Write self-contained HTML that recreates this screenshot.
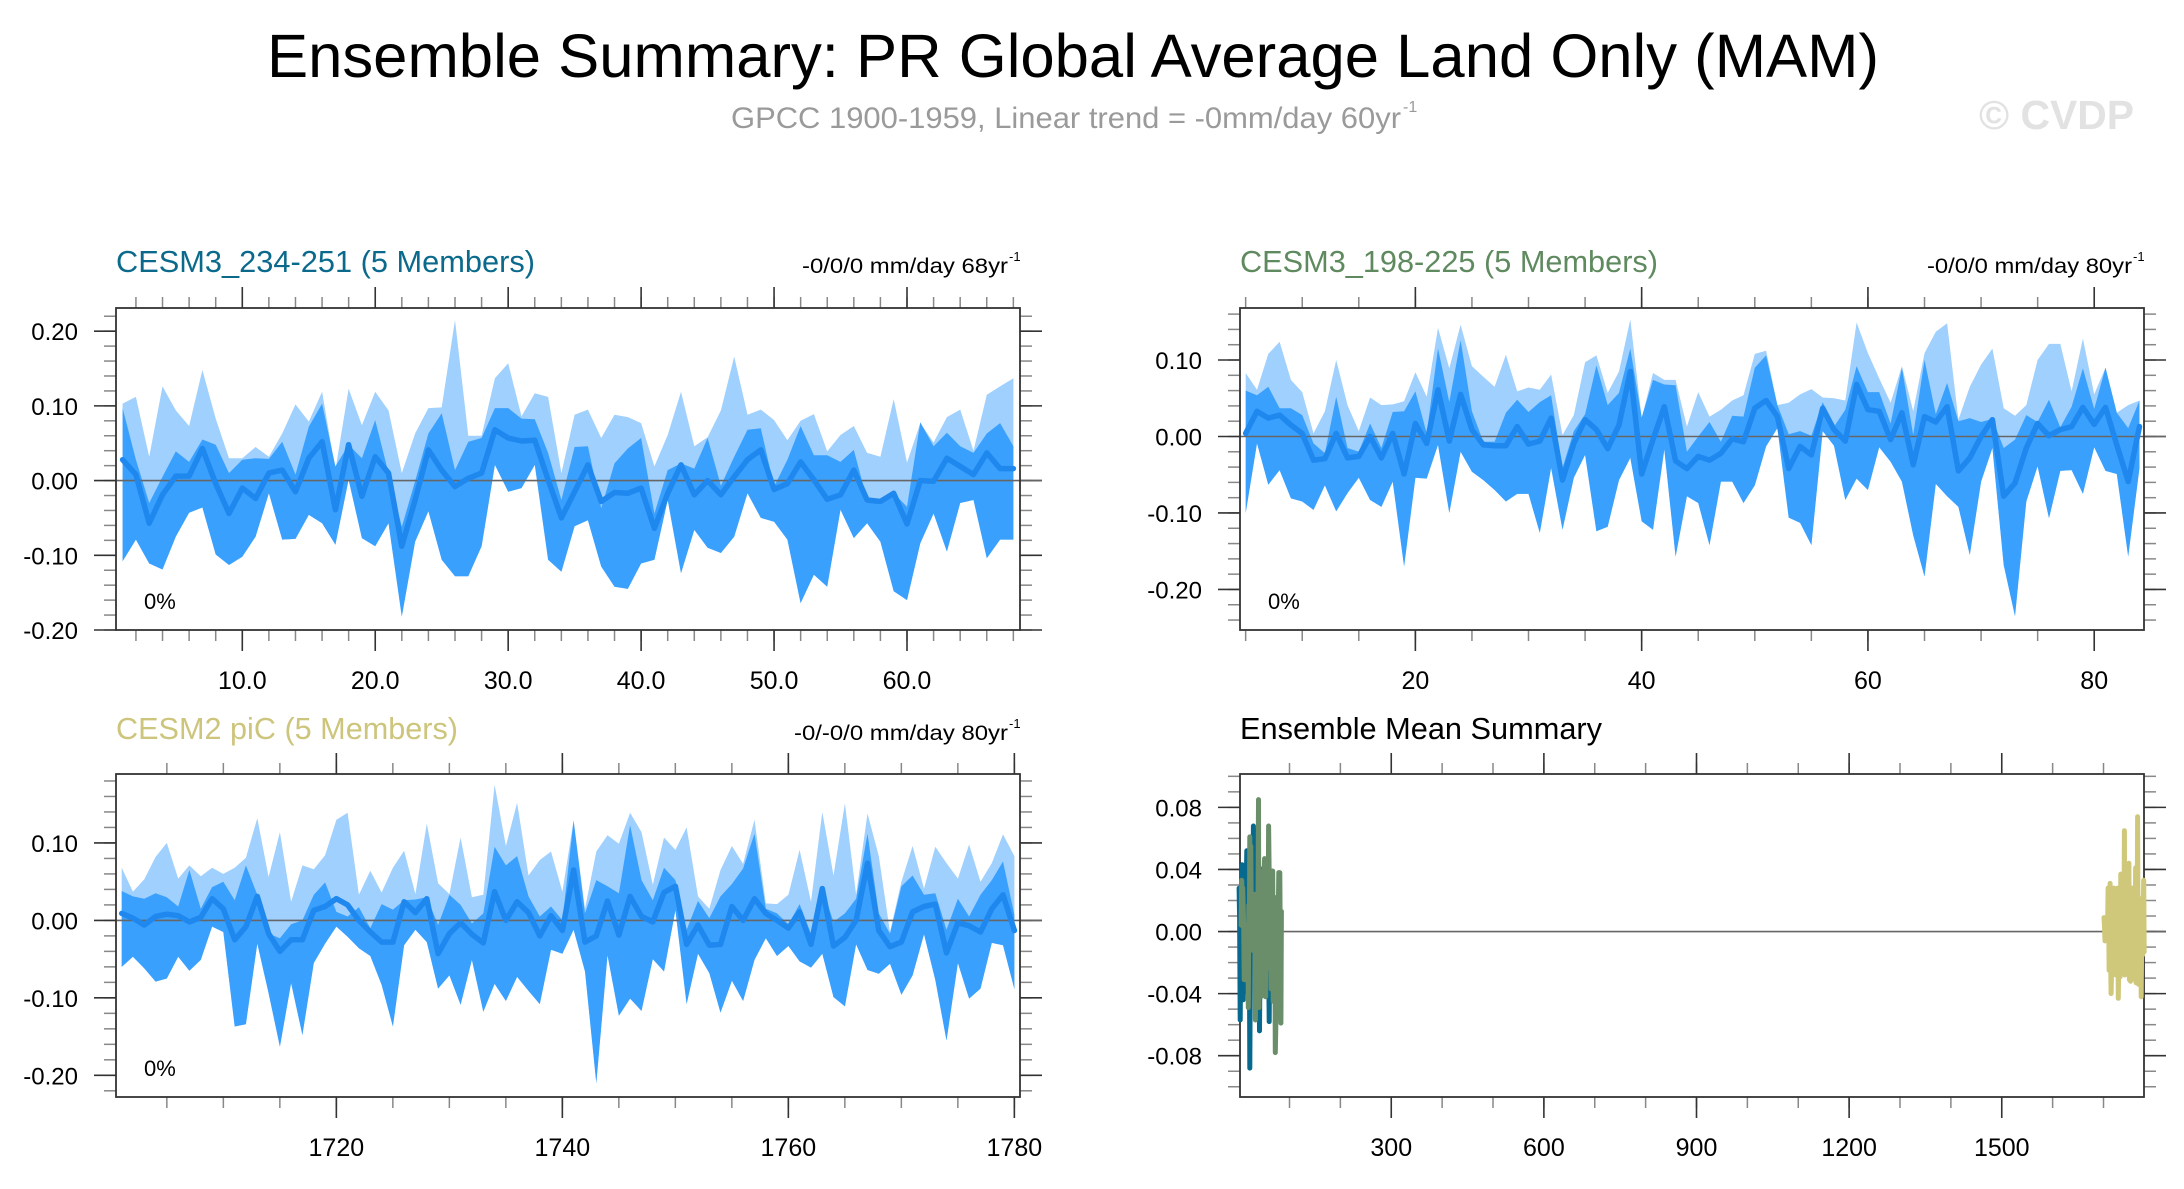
<!DOCTYPE html>
<html><head><meta charset="utf-8"><title>Ensemble Summary</title>
<style>
html,body{margin:0;padding:0;background:#fff;}
svg{display:block;font-family:"Liberation Sans",Arial,sans-serif;}
</style></head>
<body>
<svg id="chart" width="2184" height="1189" viewBox="0 0 2184 1189" xmlns="http://www.w3.org/2000/svg">
<rect x="0" y="0" width="2184" height="1189" fill="#ffffff"/>
<text x="1073" y="77" font-size="61" text-anchor="middle" textLength="1612" lengthAdjust="spacingAndGlyphs" fill="#000">Ensemble Summary: PR Global Average Land Only (MAM)</text>
<text x="731" y="128" font-size="30" fill="#9a9a9a" textLength="670" lengthAdjust="spacingAndGlyphs">GPCC 1900-1959, Linear trend = -0mm/day 60yr</text>
<text x="1403" y="112" font-size="16" fill="#9a9a9a">-1</text>
<text x="1979" y="129" font-size="41" font-weight="bold" fill="#e2e2e2" textLength="155" lengthAdjust="spacingAndGlyphs">© CVDP</text>
<g id="panels"></g>
</svg>
<script>
// ---------- Panel 1: CESM3_234-251 (years 1..68) ----------
const p1Years = Array.from({length:68},(_,i)=>i+1);
const p1Mean = [0.028,0.008,-0.057,-0.019,0.006,0.006,0.043,-0.004,-0.044,-0.010,-0.024,0.010,0.014,-0.015,0.030,0.052,-0.039,0.048,-0.021,0.032,0.010,-0.088,-0.026,0.041,0.014,-0.008,0.003,0.010,0.068,0.057,0.053,0.054,0.001,-0.050,-0.015,0.021,-0.028,-0.016,-0.017,-0.010,-0.064,-0.017,0.021,-0.019,0.000,-0.019,0.005,0.028,0.041,-0.012,-0.004,0.025,0.001,-0.025,-0.019,0.014,-0.026,-0.028,-0.017,-0.058,0.000,-0.001,0.030,0.019,0.008,0.037,0.016,0.016];
const p1Hi = [0.103,0.112,0.032,0.126,0.094,0.073,0.148,0.083,0.030,0.030,0.045,0.032,0.063,0.102,0.079,0.119,0.014,0.123,0.074,0.119,0.094,0.010,0.063,0.097,0.098,0.215,0.060,0.060,0.137,0.157,0.086,0.117,0.112,0.010,0.088,0.095,0.057,0.088,0.085,0.077,0.019,0.061,0.119,0.046,0.058,0.094,0.166,0.088,0.095,0.081,0.054,0.080,0.089,0.039,0.061,0.073,0.037,0.032,0.109,0.024,0.077,0.051,0.085,0.095,0.040,0.115,0.126,0.137];
const p1DHi = [0.097,0.028,-0.030,0.005,0.039,0.025,0.055,0.048,0.010,0.028,0.030,0.029,0.052,0.008,0.072,0.103,0.019,0.048,0.030,0.081,0.010,-0.062,-0.001,0.063,0.090,0.014,0.052,0.057,0.097,0.097,0.083,0.082,0.037,-0.026,0.045,0.046,-0.037,0.023,0.043,0.057,-0.044,0.014,0.023,0.016,0.057,-0.007,0.032,0.068,0.070,-0.008,0.028,0.073,0.034,0.034,0.025,0.041,-0.026,-0.028,-0.017,-0.035,0.078,0.046,0.064,0.046,0.037,0.063,0.077,0.046];
const p1Lo = [-0.108,-0.079,-0.111,-0.119,-0.075,-0.043,-0.036,-0.099,-0.113,-0.102,-0.075,-0.017,-0.079,-0.078,-0.046,-0.057,-0.086,0.001,-0.077,-0.088,-0.057,-0.182,-0.082,-0.041,-0.106,-0.128,-0.128,-0.088,0.021,-0.015,-0.010,0.021,-0.106,-0.122,-0.061,-0.053,-0.115,-0.142,-0.145,-0.111,-0.106,-0.026,-0.124,-0.066,-0.090,-0.097,-0.075,-0.017,-0.050,-0.055,-0.079,-0.164,-0.126,-0.142,-0.039,-0.077,-0.057,-0.082,-0.148,-0.160,-0.084,-0.044,-0.095,-0.030,-0.026,-0.104,-0.079,-0.079];

// ---------- Panel 2: CESM3_198-225 (years 5..84) ----------
const p2Years = Array.from({length:80},(_,i)=>i+5);
const p2Mean = [0.004,0.033,0.024,0.028,0.015,0.004,-0.031,-0.029,0.004,-0.028,-0.026,0.000,-0.028,0.004,-0.049,0.017,-0.009,0.061,-0.006,0.055,0.009,-0.011,-0.012,-0.012,0.013,-0.010,-0.006,0.024,-0.057,-0.009,0.022,0.009,-0.016,0.015,0.085,-0.049,-0.004,0.039,-0.032,-0.042,-0.026,-0.031,-0.022,-0.003,-0.007,0.037,0.047,0.026,-0.042,-0.013,-0.024,0.037,0.009,-0.006,0.068,0.035,0.033,-0.004,0.031,-0.037,0.026,0.019,0.039,-0.045,-0.028,0.000,0.022,-0.078,-0.061,-0.015,0.017,0.001,0.009,0.013,0.038,0.016,0.038,-0.011,-0.059,0.013];
const p2Hi = [0.083,0.061,0.108,0.124,0.074,0.058,0.004,0.033,0.100,0.041,0.007,0.051,0.041,0.042,0.046,0.084,0.052,0.142,0.089,0.146,0.092,0.078,0.065,0.107,0.059,0.064,0.061,0.081,0.002,0.028,0.097,0.106,0.057,0.085,0.153,0.024,0.083,0.074,0.074,0.013,0.058,0.026,0.035,0.047,0.054,0.108,0.112,0.041,0.044,0.055,0.062,0.051,0.050,0.047,0.149,0.109,0.076,0.044,0.092,0.033,0.109,0.137,0.148,0.022,0.065,0.094,0.115,0.037,0.027,0.041,0.100,0.121,0.121,0.059,0.128,0.055,0.090,0.031,0.041,0.047];
const p2DHi = [0.060,0.054,0.065,0.037,0.037,0.028,-0.009,-0.022,0.052,-0.015,-0.020,0.017,-0.015,0.032,0.033,0.059,0.004,0.115,0.045,0.126,0.033,-0.007,-0.007,0.031,0.048,0.032,0.045,0.054,-0.041,0.007,0.029,0.093,0.041,0.057,0.115,0.025,0.074,0.068,0.067,-0.020,0.000,0.019,-0.007,0.027,0.026,0.090,0.106,0.041,0.003,0.007,0.001,0.045,0.013,0.035,0.092,0.058,0.058,0.017,0.090,0.002,0.100,0.029,0.070,0.020,0.024,0.019,0.023,-0.015,-0.004,0.028,0.019,0.048,0.012,0.039,0.089,0.036,0.090,0.031,0.011,0.047];
const p2Lo = [-0.100,-0.009,-0.063,-0.044,-0.081,-0.085,-0.096,-0.064,-0.098,-0.074,-0.054,-0.083,-0.092,-0.059,-0.170,-0.054,-0.055,-0.011,-0.100,-0.020,-0.046,-0.057,-0.070,-0.085,-0.075,-0.075,-0.126,-0.041,-0.122,-0.054,-0.024,-0.124,-0.118,-0.057,-0.028,-0.111,-0.122,-0.017,-0.157,-0.078,-0.087,-0.142,-0.059,-0.059,-0.087,-0.064,-0.013,0.011,-0.106,-0.113,-0.142,0.007,-0.012,-0.083,-0.055,-0.070,-0.014,-0.033,-0.059,-0.129,-0.183,-0.062,-0.078,-0.092,-0.155,-0.059,-0.015,-0.168,-0.235,-0.085,-0.039,-0.107,-0.045,-0.044,-0.075,-0.014,-0.045,-0.049,-0.157,-0.041];

// ---------- Panel 3: CESM2 piC (years 1701..1780) ----------
const p3Years = Array.from({length:80},(_,i)=>i+1701);
const p3Mean = [0.009,0.003,-0.006,0.005,0.008,0.006,-0.002,0.004,0.028,0.015,-0.025,-0.008,0.031,-0.017,-0.040,-0.025,-0.025,0.013,0.018,0.028,0.020,0.000,-0.015,-0.028,-0.028,0.024,0.010,0.028,-0.043,-0.017,-0.003,-0.018,-0.029,0.037,0.000,0.024,0.010,-0.020,0.006,-0.013,0.065,-0.028,-0.020,0.025,-0.019,0.031,0.005,-0.002,0.036,0.044,-0.031,-0.006,-0.032,-0.031,0.018,0.000,0.028,0.009,0.000,-0.010,0.011,-0.031,0.041,-0.033,-0.022,0.000,0.074,-0.013,-0.034,-0.028,0.011,0.018,0.021,-0.042,-0.003,-0.007,-0.015,0.015,0.033,-0.013];
const p3Hi = [0.068,0.037,0.053,0.082,0.100,0.054,0.071,0.057,0.068,0.060,0.068,0.081,0.132,0.056,0.114,0.024,0.071,0.066,0.084,0.130,0.139,0.033,0.064,0.036,0.068,0.090,0.034,0.125,0.048,0.034,0.107,0.030,0.033,0.175,0.096,0.152,0.058,0.078,0.089,0.037,0.129,0.015,0.089,0.110,0.099,0.139,0.114,0.046,0.107,0.091,0.120,0.031,0.015,0.065,0.096,0.073,0.130,0.022,0.021,0.033,0.091,0.024,0.140,0.058,0.151,0.033,0.138,0.083,-0.015,0.050,0.096,0.041,0.095,0.074,0.054,0.098,0.050,0.074,0.111,0.083];
const p3DHi = [0.038,0.031,0.028,0.035,0.030,0.018,0.065,0.015,0.043,0.050,0.026,0.071,0.033,-0.017,-0.023,-0.005,0.000,0.033,0.049,0.011,0.005,0.017,-0.010,0.021,0.014,0.026,0.027,0.030,-0.006,0.033,0.020,-0.004,0.009,0.095,0.071,0.083,0.031,0.005,0.018,0.000,0.129,0.009,0.052,0.044,0.035,0.123,0.052,0.026,0.068,0.052,-0.012,0.025,0.003,0.031,0.047,0.067,0.112,0.015,0.009,-0.005,0.021,-0.017,0.041,-0.002,0.009,0.028,0.112,0.009,-0.017,0.044,0.058,0.033,0.035,-0.012,0.028,0.005,0.033,0.052,0.076,0.007];
const p3Lo = [-0.060,-0.047,-0.062,-0.079,-0.075,-0.047,-0.065,-0.051,-0.008,-0.015,-0.137,-0.134,-0.030,-0.094,-0.163,-0.081,-0.148,-0.055,-0.030,-0.008,-0.021,-0.036,-0.046,-0.083,-0.137,-0.032,-0.012,-0.028,-0.088,-0.071,-0.109,-0.051,-0.118,-0.082,-0.104,-0.073,-0.091,-0.108,-0.038,-0.043,-0.012,-0.066,-0.210,-0.045,-0.123,-0.101,-0.117,-0.050,-0.066,0.013,-0.108,-0.043,-0.068,-0.119,-0.078,-0.104,-0.051,-0.023,-0.046,-0.033,-0.053,-0.061,-0.043,-0.099,-0.111,-0.031,-0.064,-0.069,-0.056,-0.096,-0.071,-0.018,-0.077,-0.155,-0.055,-0.101,-0.088,-0.029,-0.032,-0.089];

// ---------- tick label arrays ----------
const p1XTicks = [10,20,30,40,50,60];
const p1XLabels = ["10.0","20.0","30.0","40.0","50.0","60.0"];
const p1YTicks = [-0.2,-0.1,0,0.1,0.2];
const p2XTicks = [20,40,60,80];
const p2YTicks = [-0.2,-0.1,0,0.1];
const p3XTicks = [1720,1740,1760,1780];
const p3YTicks = [-0.2,-0.1,0,0.1];
const p4XTicks = [300,600,900,1200,1500];
const p4YTicks = [-0.08,-0.04,0,0.04,0.08];

const NS = "http://www.w3.org/2000/svg";
const root = document.getElementById('panels');
function mk(tag, attrs, parent){
  const e = document.createElementNS(NS, tag);
  for (const k in attrs) e.setAttribute(k, attrs[k]);
  (parent||root).appendChild(e);
  return e;
}
function scales(cfg){
  const sx = v => cfg.x0 + (v - cfg.xmin) / (cfg.xmax - cfg.xmin) * (cfg.x1 - cfg.x0);
  const sy = v => cfg.y1 - (v - cfg.ymin) / (cfg.ymax - cfg.ymin) * (cfg.y1 - cfg.y0);
  return {sx, sy};
}
function frame(cfg, g){
  const {sx, sy} = scales(cfg);
  for (let v = cfg.xMinorStart; v <= cfg.xmax + 1e-9; v += cfg.xMinor){
    const X = sx(v);
    const t1 = mk('line',{x1:X,x2:X,y1:cfg.y0,y2:cfg.y0-11,stroke:'#888','stroke-width':1.5},g);
    
    
    const t2 = mk('line',{x1:X,x2:X,y1:cfg.y1,y2:cfg.y1+11,stroke:'#888','stroke-width':1.5},g);
    
    
  }
  for (let v = cfg.yMinorStart; v <= cfg.ymax + 1e-9; v += cfg.yMinor){
    const Y = sy(v);
    const t1 = mk('line',{x1:cfg.x0,x2:cfg.x0-12,y1:Y,y2:Y,stroke:'#888','stroke-width':1.5},g);
    
    
    const t2 = mk('line',{x1:cfg.x1,x2:cfg.x1+12,y1:Y,y2:Y,stroke:'#888','stroke-width':1.5},g);
    
    
  }
  cfg.xTicks.forEach((v,i)=>{
    const X = sx(v);
    const a = mk('line',{x1:X,x2:X,y1:cfg.y0,y2:cfg.y0-21,stroke:'#333','stroke-width':1.6},g);
    
    
    const b = mk('line',{x1:X,x2:X,y1:cfg.y1,y2:cfg.y1+21,stroke:'#333','stroke-width':1.6},g);
    
    
    const t = mk('text',{x:X,y:cfg.xLabelY,'font-size':25,'text-anchor':'middle',fill:'#000'},g);
    t.textContent = cfg.xLabels[i];
    
    
  });
  cfg.yTicks.forEach((v,i)=>{
    const Y = sy(v);
    const a = mk('line',{x1:cfg.x0,x2:cfg.x0-22,y1:Y,y2:Y,stroke:'#333','stroke-width':1.6},g);
    
    
    const b = mk('line',{x1:cfg.x1,x2:cfg.x1+22,y1:Y,y2:Y,stroke:'#333','stroke-width':1.6},g);
    
    
    const t = mk('text',{x:cfg.x0-38,y:Y+9,'font-size':24,'text-anchor':'end',fill:'#000'},g);
    t.textContent = cfg.yLabels[i];
    
    
  });
  const z = mk('line',{x1:cfg.x0,x2:cfg.x1+22,y1:sy(0),y2:sy(0),stroke:'#666','stroke-width':1.6},g);
  
  
  const box = mk('rect',{x:cfg.x0,y:cfg.y0,width:cfg.x1-cfg.x0,height:cfg.y1-cfg.y0,fill:'none',stroke:'#333','stroke-width':1.8},g);
  
  
}
function bandPath(xs, top, bot, sx, sy){
  let d = '';
  xs.forEach((x,i)=>{ d += (i?'L':'M') + sx(x).toFixed(1) + ',' + sy(top[i]).toFixed(1); });
  for (let i = xs.length-1; i >= 0; i--) d += 'L' + sx(xs[i]).toFixed(1) + ',' + sy(bot[i]).toFixed(1);
  return d + 'Z';
}
function linePath(xs, ys, sx, sy){
  return xs.map((x,i)=>(i?'L':'M') + sx(x).toFixed(1) + ',' + sy(ys[i]).toFixed(1)).join('');
}
function headers(cfg, g){
  const t = mk('text',{x:cfg.x0,y:cfg.titleY,'font-size':31,fill:cfg.titleColor,textLength:cfg.titleLen,lengthAdjust:'spacingAndGlyphs'},g);
  t.textContent = cfg.title;
  
  
  if (cfg.trend){
    const r = mk('text',{x:cfg.trendX,y:cfg.titleY+1,'font-size':21,fill:'#000',textLength:cfg.trendLen,lengthAdjust:'spacingAndGlyphs'},g);
    r.textContent = cfg.trend;
    
    
    const s = mk('text',{x:cfg.trendX+cfg.trendLen+1,y:cfg.titleY-11,'font-size':13,fill:'#000'},g);
    s.textContent = '-1';
    
    
  }
}
function ensemblePanel(cfg, xs, hi, dhi, lo, mean, name){
  const g = mk('g',{});
  
  
  const {sx, sy} = scales(cfg);
  const l = mk('path',{d:bandPath(xs,hi,lo,sx,sy),fill:'#a0d0fd',stroke:'none'},g);
  
  
  const d = mk('path',{d:bandPath(xs,dhi,lo,sx,sy),fill:'#3aa0fe',stroke:'none'},g);
  
  
  frame(cfg, g);
  const m = mk('path',{d:linePath(xs,mean,sx,sy),fill:'none',stroke:'#1f88ef','stroke-width':5.5,'stroke-linejoin':'round','stroke-linecap':'round'},g);
  
  
  const pct = mk('text',{x:cfg.x0+28,y:cfg.y1-21,'font-size':22,fill:'#000'},g);
  pct.textContent = '0%';
  
  
  headers(cfg, g);
}

const fmt2 = v => v.toFixed(2);

const cfg1 = {x0:116,x1:1020,y0:308,y1:630,xmin:0.5,xmax:68.5,ymin:-0.2,ymax:0.231,
  xMinor:2,xMinorStart:2,yMinor:0.02,yMinorStart:-0.2,xTicks:p1XTicks,xLabels:p1XLabels,
  yTicks:p1YTicks,yLabels:p1YTicks.map(fmt2),xLabelY:689,
  title:'CESM3_234-251 (5 Members)',titleColor:'#0b6a8c',titleY:272,titleLen:419,
  trend:'-0/0/0 mm/day 68yr',trendX:802,trendLen:206};
const cfg2 = {x0:1240,x1:2144,y0:308,y1:630,xmin:4.5,xmax:84.4,ymin:-0.253,ymax:0.168,
  xMinor:5,xMinorStart:5,yMinor:0.02,yMinorStart:-0.24,xTicks:p2XTicks,xLabels:p2XTicks.map(String),
  yTicks:p2YTicks,yLabels:p2YTicks.map(fmt2),xLabelY:689,
  title:'CESM3_198-225 (5 Members)',titleColor:'#5f8a5f',titleY:272,titleLen:418,
  trend:'-0/0/0 mm/day 80yr',trendX:1927,trendLen:205};
const cfg3 = {x0:116,x1:1020,y0:774,y1:1097,xmin:1700.5,xmax:1780.5,ymin:-0.228,ymax:0.189,
  xMinor:5,xMinorStart:1705,yMinor:0.02,yMinorStart:-0.22,xTicks:p3XTicks,xLabels:p3XTicks.map(String),
  yTicks:p3YTicks,yLabels:p3YTicks.map(fmt2),xLabelY:1156,
  title:'CESM2 piC (5 Members)',titleColor:'#cdc57c',titleY:739,titleLen:342,
  trend:'-0/-0/0 mm/day 80yr',trendX:794,trendLen:214};
const cfg4 = {x0:1240,x1:2144,y0:774,y1:1097,xmin:2.7,xmax:1779.6,ymin:-0.1066,ymax:0.1015,
  xMinor:100,xMinorStart:100,yMinor:0.01,yMinorStart:-0.10,xTicks:p4XTicks,xLabels:p4XTicks.map(String),
  yTicks:p4YTicks,yLabels:p4YTicks.map(fmt2),xLabelY:1156,
  title:'Ensemble Mean Summary',titleColor:'#000',titleY:739,titleLen:362,trend:null};

ensemblePanel(cfg1, p1Years, p1Hi, p1DHi, p1Lo, p1Mean, 'panel-cesm3-234-251');
ensemblePanel(cfg2, p2Years, p2Hi, p2DHi, p2Lo, p2Mean, 'panel-cesm3-198-225');
ensemblePanel(cfg3, p3Years, p3Hi, p3DHi, p3Lo, p3Mean, 'panel-cesm2-pic');

(function(){
  const g = mk('g',{});
  
  
  frame(cfg4, g);
  const {sx, sy} = scales(cfg4);
  const series = [
    {xs:p1Years, ys:p1Mean, c:'#07698d', n:'mean-line-cesm3-234-251'},
    {xs:p2Years, ys:p2Mean, c:'#6a8d6a', n:'mean-line-cesm3-198-225'},
    {xs:p3Years, ys:p3Mean, c:'#cfc87a', n:'mean-line-cesm2-pic'}
  ];
  series.forEach(s=>{
    const p = mk('path',{d:linePath(s.xs,s.ys,sx,sy),fill:'none',stroke:s.c,'stroke-width':5,'stroke-linejoin':'round','stroke-linecap':'round'},g);
    
    
  });
  headers(cfg4, g);
})();
</script>
</body></html>
